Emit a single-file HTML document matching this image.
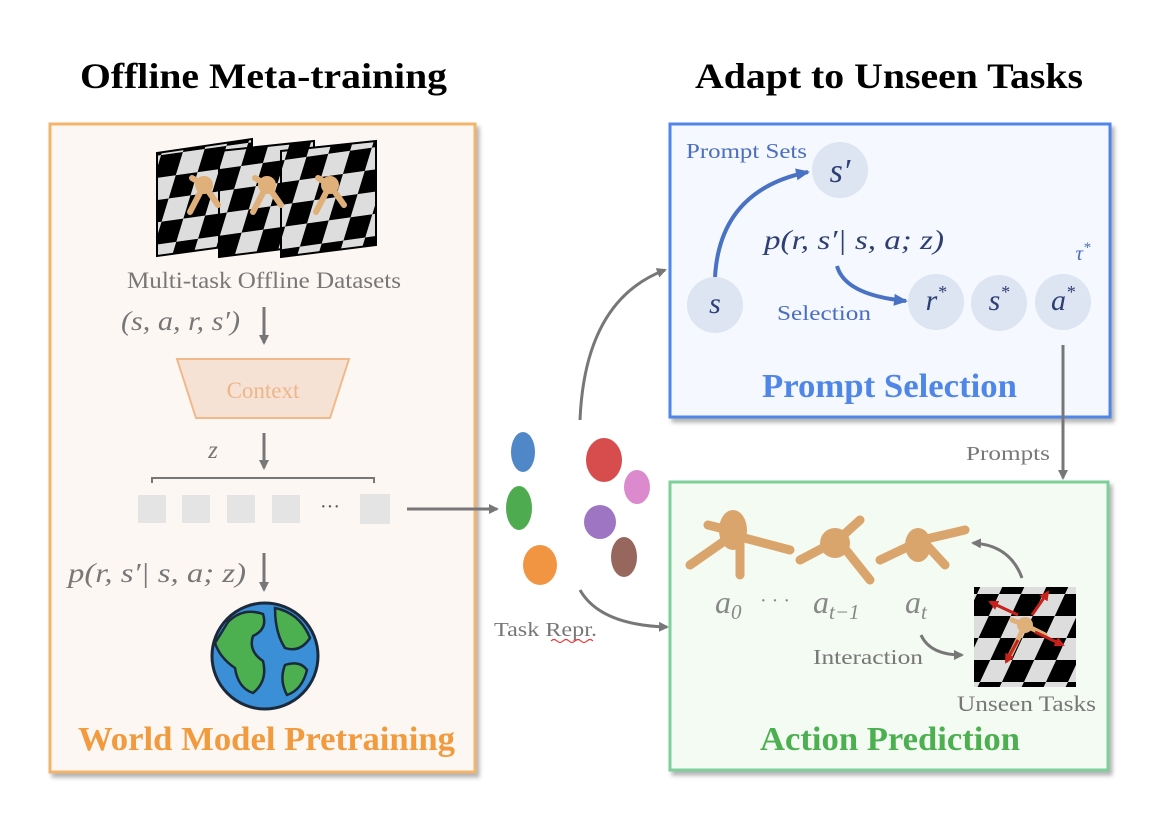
<!DOCTYPE html>
<html><head><meta charset="utf-8"><style>
body{margin:0;background:#fff;}
svg{display:block;}
</style></head><body>
<svg width="1162" height="824" viewBox="0 0 1162 824" xmlns="http://www.w3.org/2000/svg" font-family="Liberation Serif, serif">
<defs>
<pattern id="chk" width="44" height="44" patternUnits="userSpaceOnUse" patternTransform="rotate(-8) skewX(-25)">
<rect width="44" height="44" fill="#ddd"/><rect width="22" height="22" fill="#000"/><rect x="22" y="22" width="22" height="22" fill="#000"/>
</pattern>
<pattern id="chk2" width="44" height="44" patternUnits="userSpaceOnUse" patternTransform="skewX(-25)">
<rect width="44" height="44" fill="#ddd"/><rect width="22" height="22" fill="#000"/><rect x="22" y="22" width="22" height="22" fill="#000"/>
</pattern>
<marker id="ag" markerWidth="10" markerHeight="10" refX="8" refY="5" orient="auto" markerUnits="userSpaceOnUse"><path d="M0,0 L10,5 L0,10 z" fill="#777"/></marker>
<marker id="ar" markerWidth="10" markerHeight="10" refX="8" refY="5" orient="auto" markerUnits="userSpaceOnUse"><path d="M0,0 L10,5 L0,10 z" fill="#c8201a"/></marker>
<marker id="ab" markerWidth="14" markerHeight="12" refX="12" refY="6" orient="auto" markerUnits="userSpaceOnUse"><path d="M0,0 L14,6 L0,12 z" fill="#4a72c4"/></marker>
<filter id="sh" x="-5%" y="-5%" width="110%" height="110%"><feDropShadow dx="3" dy="4" stdDeviation="2" flood-color="#000" flood-opacity="0.3"/></filter>
</defs>

<!-- Titles -->
<text x="80" y="88" font-size="36" font-weight="bold" fill="#000" textLength="367" lengthAdjust="spacingAndGlyphs">Offline Meta-training</text>
<text x="695" y="88" font-size="36" font-weight="bold" fill="#000" textLength="388" lengthAdjust="spacingAndGlyphs">Adapt to Unseen Tasks</text>

<!-- Left box -->
<rect x="50" y="124" width="425" height="648" fill="#fcf7f3" stroke="#f3b46c" stroke-width="3" filter="url(#sh)"/>
<g stroke="#000" stroke-width="2">
<polygon points="157,153 252,139 252,243 157,256" fill="url(#chk)"/>
<polygon points="219,151 314,141 314,245 219,257" fill="url(#chk)"/>
<polygon points="281,151 376,141 376,245 281,257" fill="url(#chk)"/>
</g>
<g stroke="#e0b07a" stroke-width="6" stroke-linecap="round" fill="#e0b07a">
<circle cx="204" cy="185" r="9" stroke="none"/><path d="M204,185 L190,212 M204,185 L218,205 M204,185 L192,178" fill="none"/>
<circle cx="267" cy="185" r="9" stroke="none"/><path d="M267,185 L253,212 M267,185 L281,205 M267,185 L255,178" fill="none"/>
<circle cx="330" cy="185" r="9" stroke="none"/><path d="M330,185 L316,212 M330,185 L344,205 M330,185 L318,178" fill="none"/>
</g>
<text x="127" y="288" font-size="23" fill="#777" textLength="274" lengthAdjust="spacingAndGlyphs">Multi-task Offline Datasets</text>
<text x="121" y="330" font-size="27" font-style="italic" fill="#777" textLength="119" lengthAdjust="spacingAndGlyphs">(s, a, r, s′)</text>
<line x1="264" y1="307" x2="264" y2="343" stroke="#777" stroke-width="3" marker-end="url(#ag)"/>
<polygon points="177,359 349,359 330,418 196,418" fill="#f6e2d4" stroke="#f1b98a" stroke-width="2"/>
<text x="263" y="398" text-anchor="middle" font-size="23" fill="#eeb588">Context</text>
<text x="213" y="458" text-anchor="middle" font-size="25" font-style="italic" fill="#777">z</text>
<line x1="264" y1="433" x2="264" y2="468" stroke="#777" stroke-width="3" marker-end="url(#ag)"/>
<path d="M152,483 V478 H374 V483" fill="none" stroke="#777" stroke-width="2"/>
<g fill="#e4e4e4">
<rect x="138" y="495" width="28" height="28"/><rect x="182" y="495" width="28" height="28"/>
<rect x="227" y="495" width="28" height="28"/><rect x="272" y="495" width="28" height="28"/>
<rect x="360" y="494" width="30" height="30"/>
</g>
<text x="330" y="513" text-anchor="middle" font-size="20" fill="#555">···</text>
<text x="68" y="582" font-size="27" font-style="italic" fill="#777" textLength="178" lengthAdjust="spacingAndGlyphs">p(r, s′| s, a; z)</text>
<line x1="264" y1="553" x2="264" y2="590" stroke="#777" stroke-width="3" marker-end="url(#ag)"/>
<circle cx="265" cy="656" r="53" fill="#3a8fd6" stroke="#1a2a3a" stroke-width="3"/>
<path d="M228,622 q15,-15 35,-8 q5,15 -10,22 q-5,15 10,25 q5,20 -10,32 q-15,-5 -18,-25 q-15,-10 -20,-25 z" fill="#4caf50" stroke="#1a2a3a" stroke-width="2.5"/>
<path d="M275,608 q25,5 35,30 q-10,15 -25,10 q-10,-15 -10,-40 z M285,665 q15,-5 22,5 q-5,20 -20,25 q-8,-15 -2,-30 z" fill="#4caf50" stroke="#1a2a3a" stroke-width="2.5"/>
<text x="78" y="750" font-size="34" font-weight="bold" fill="#f19a3e" textLength="377" lengthAdjust="spacingAndGlyphs">World Model Pretraining</text>

<line x1="407" y1="509" x2="497" y2="509" stroke="#777" stroke-width="3" marker-end="url(#ag)"/>

<g opacity="0.9">
<ellipse cx="523" cy="452" rx="12" ry="20" fill="#3d7bc4"/>
<ellipse cx="519" cy="508" rx="13" ry="22" fill="#3da33d"/>
<ellipse cx="540" cy="565" rx="17" ry="20" fill="#f08a2e"/>
<ellipse cx="604" cy="460" rx="18" ry="22" fill="#d33a3a"/>
<ellipse cx="637" cy="487" rx="13" ry="17" fill="#d77ec8"/>
<ellipse cx="600" cy="522" rx="16" ry="17" fill="#9467bd"/>
<ellipse cx="624" cy="557" rx="13" ry="20" fill="#8c564b"/>
</g>
<text x="494" y="636" font-size="20" fill="#777" textLength="103" lengthAdjust="spacingAndGlyphs">Task Repr.</text>
<path d="M551,641 q3,-3 6,0 t6,0 t6,0 t6,0 t6,0 t6,0 t6,0" fill="none" stroke="#e33" stroke-width="1.2"/>

<path d="M580,420 Q585,300 665,270" fill="none" stroke="#777" stroke-width="3" marker-end="url(#ag)"/>
<path d="M580,590 Q600,625 667,627" fill="none" stroke="#777" stroke-width="3" marker-end="url(#ag)"/>

<!-- Prompt box -->
<rect x="670" y="124" width="440" height="293" fill="#f5f8fe" stroke="#4f86e8" stroke-width="3" filter="url(#sh)"/>
<text x="686" y="158" font-size="21" fill="#4a6fc0" textLength="121" lengthAdjust="spacingAndGlyphs">Prompt Sets</text>
<g fill="#dde4f2">
<circle cx="840" cy="170" r="28"/><circle cx="715" cy="305" r="28"/>
<circle cx="936" cy="302" r="28"/><circle cx="999" cy="303" r="28"/><circle cx="1063" cy="302" r="28"/>
</g>
<g font-style="italic" fill="#2d3f73" text-anchor="middle">
<text x="840" y="182" font-size="34">s′</text>
<text x="715" y="313" font-size="30">s</text>
<text x="936" y="310" font-size="30">r<tspan font-size="18" dy="-12">*</tspan></text>
<text x="999" y="310" font-size="30">s<tspan font-size="18" dy="-12">*</tspan></text>
<text x="1063" y="310" font-size="30">a<tspan font-size="18" dy="-12">*</tspan></text>
<text x="1083" y="260" font-size="21" fill="#4a6fc0">τ<tspan font-size="15" dy="-8">*</tspan></text>
</g>
<text x="764" y="249" font-size="27" font-style="italic" fill="#2d3f73" textLength="180" lengthAdjust="spacingAndGlyphs">p(r, s′| s, a; z)</text>
<path d="M715,277 Q720,190 808,172" fill="none" stroke="#4a72c4" stroke-width="4" marker-end="url(#ab)"/>
<path d="M837,266 Q845,295 906,301" fill="none" stroke="#4a72c4" stroke-width="4" marker-end="url(#ab)"/>
<text x="777" y="320" font-size="21" fill="#4a6fc0" textLength="94" lengthAdjust="spacingAndGlyphs">Selection</text>
<text x="762" y="397" font-size="34" font-weight="bold" fill="#4f86e8" textLength="255" lengthAdjust="spacingAndGlyphs">Prompt Selection</text>

<line x1="1063" y1="345" x2="1063" y2="478" stroke="#777" stroke-width="3" marker-end="url(#ag)"/>
<text x="966" y="460" font-size="20" fill="#777" textLength="84" lengthAdjust="spacingAndGlyphs">Prompts</text>

<!-- Action box -->
<rect x="670" y="482" width="438" height="288" fill="#f4fbf3" stroke="#7fcf9a" stroke-width="3" filter="url(#sh)"/>
<g stroke="#d9a56c" stroke-width="9" stroke-linecap="round" fill="none">
<path d="M733,535 L690,565 M733,535 L790,550 M740,540 L740,575 M728,530 L708,525"/>
<path d="M838,540 L860,520 M838,540 L870,580 M838,540 L800,560"/>
<path d="M922,540 L965,530 M922,540 L880,560 M922,540 L945,565"/>
</g>
<g fill="#d9a56c">
<ellipse cx="733" cy="530" rx="14" ry="20"/><ellipse cx="835" cy="543" rx="15" ry="15"/><ellipse cx="918" cy="545" rx="13" ry="17"/>
</g>
<g font-style="italic" fill="#888" font-size="32">
<text x="715" y="613">a<tspan font-size="21" dy="6">0</tspan></text>
<text x="760" y="607" font-style="normal" font-size="20">· · ·</text>
<text x="813" y="613">a<tspan font-size="21" dy="6">t−1</tspan></text>
<text x="905" y="613">a<tspan font-size="21" dy="6">t</tspan></text>
</g>
<path d="M1022,578 Q1010,545 973,543" fill="none" stroke="#777" stroke-width="3" marker-end="url(#ag)"/>
<path d="M921,635 Q930,655 962,655" fill="none" stroke="#777" stroke-width="3" marker-end="url(#ag)"/>
<text x="813" y="664" font-size="21" fill="#777" textLength="110" lengthAdjust="spacingAndGlyphs">Interaction</text>
<rect x="974" y="587" width="102" height="100" fill="url(#chk2)"/>
<g stroke="#e0b07a" stroke-width="5" stroke-linecap="round"><path d="M1025,625 L1008,660 M1025,625 L1045,635 M1025,625 L1012,620"/></g>
<circle cx="1025" cy="625" r="8" fill="#e0b07a"/>
<g stroke="#c8201a" stroke-width="3" marker-end="url(#ar)"><line x1="1018" y1="615" x2="990" y2="602"/><line x1="1032" y1="615" x2="1048" y2="592"/><line x1="1035" y1="632" x2="1063" y2="645"/><line x1="1018" y1="640" x2="1006" y2="662"/></g>
<text x="957" y="711" font-size="22" fill="#777" textLength="139" lengthAdjust="spacingAndGlyphs">Unseen Tasks</text>
<text x="760" y="750" font-size="34" font-weight="bold" fill="#4caf50" textLength="260" lengthAdjust="spacingAndGlyphs">Action Prediction</text>
</svg>
</body></html>
